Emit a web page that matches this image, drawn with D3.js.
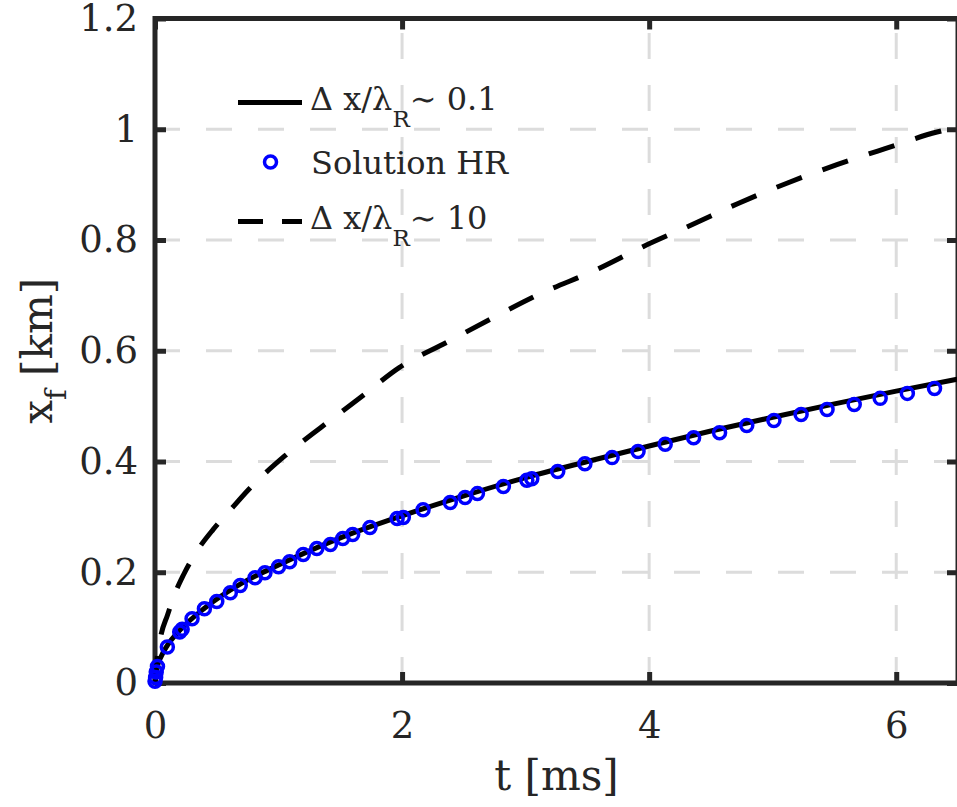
<!DOCTYPE html>
<html>
<head>
<meta charset="utf-8">
<script src="https://cdn.jsdelivr.net/npm/d3@7"></script>
<style>
  html, body { margin: 0; padding: 0; background: #fff; }
  svg { display: block; }
  text { font-family: "DejaVu Serif", "Liberation Serif", serif; fill: #262626; }
</style>
</head>
<body>
<svg id="chart" width="957" height="807"></svg>
<script>
// ---- data ----
const xTicks = [0, 2, 4, 6];
const yTicks = [0, 0.2, 0.4, 0.6, 0.8, 1, 1.2];
const yTickLabels = ["0", "0.2", "0.4", "0.6", "0.8", "1", "1.2"];

// Δx/λR ~ 0.1 (solid)
const fineT = [0, 0.02, 0.05, 0.1, 0.2, 0.4, 0.7, 1.0, 1.5, 2.0, 2.5, 3.0, 3.5, 4.0, 4.5, 5.0, 5.5, 6.0, 6.5];
const fineX = [0, 0.03, 0.048, 0.068, 0.095, 0.135, 0.18, 0.213, 0.262, 0.302, 0.338, 0.371, 0.4, 0.428, 0.455, 0.48, 0.504, 0.527, 0.549];

// Solution HR (circles)
const hrT = [0, 0.005, 0.01, 0.02, 0.1, 0.2, 0.22, 0.3, 0.4, 0.5, 0.61, 0.69, 0.81, 0.89, 1.0, 1.09, 1.2, 1.31, 1.42, 1.52, 1.6, 1.74, 1.96, 2.01, 2.17, 2.39, 2.51, 2.61, 2.82, 3.01, 3.05, 3.26, 3.48, 3.7, 3.91, 4.13, 4.36, 4.57, 4.79, 5.01, 5.23, 5.44, 5.66, 5.87, 6.09, 6.31];
const hrX = [0.003, 0.01, 0.02, 0.03, 0.065, 0.092, 0.097, 0.116, 0.134, 0.147, 0.163, 0.176, 0.19, 0.199, 0.21, 0.219, 0.232, 0.243, 0.25, 0.261, 0.268, 0.281, 0.297, 0.299, 0.313, 0.326, 0.335, 0.342, 0.355, 0.366, 0.369, 0.382, 0.396, 0.407, 0.418, 0.431, 0.443, 0.452, 0.465, 0.474, 0.485, 0.494, 0.503, 0.514, 0.523, 0.532];

// Δx/λR ~ 10 (dashed)
const coarseT = [0, 0.02, 0.05, 0.1, 0.15, 0.23, 0.33, 0.47, 0.6, 0.76, 1.05, 1.34, 1.66, 1.98, 2.36, 2.74, 3.12, 3.58, 3.95, 4.35, 4.72, 5.12, 5.52, 5.91, 6.33, 6.5];
const coarseX = [0, 0.05, 0.088, 0.122, 0.155, 0.195, 0.235, 0.277, 0.31, 0.35, 0.41, 0.461, 0.515, 0.57, 0.615, 0.66, 0.703, 0.747, 0.788, 0.828, 0.866, 0.903, 0.936, 0.965, 0.995, 1.004];

// ---- layout ----
const L = 155, R = 958, T = 18.5, B = 683;
const svg = d3.select("#chart");
const x = d3.scaleLinear().domain([0, 6.5]).range([L, R]);
const y = d3.scaleLinear().domain([0, 1.2]).range([B, T]);

const axisColor = "#262626";
const gridColor = "#dcdcdc";

// grid
const grid = svg.append("g");
grid.selectAll("line.vg").data(xTicks.filter(d => d > 0)).join("line")
  .attr("x1", d => x(d)).attr("x2", d => x(d)).attr("y1", B).attr("y2", T)
  .attr("stroke", gridColor).attr("stroke-width", 3).attr("stroke-dasharray", "26,26");
grid.selectAll("line.hg").data(yTicks.filter(d => d > 0 && d < 1.2)).join("line")
  .attr("x1", L - 1).attr("x2", R).attr("y1", d => y(d)).attr("y2", d => y(d))
  .attr("stroke", gridColor).attr("stroke-width", 3).attr("stroke-dasharray", "26,26");

// axes (ticks inward on all sides)
const tickFont = 37;
function styleAxis(g) {
  g.select(".domain").remove();
  g.selectAll(".tick line").attr("stroke", axisColor).attr("stroke-width", 5);
  g.selectAll(".tick text").attr("fill", axisColor).style("font-size", tickFont + "px")
    .style("font-family", '"DejaVu Serif", serif');
}
svg.append("g").attr("transform", `translate(0,${B})`)
  .call(d3.axisBottom(x).tickValues(xTicks).tickFormat(d3.format("d")).tickSize(-11).tickPadding(29))
  .call(styleAxis);
svg.append("g").attr("transform", `translate(${L},0)`)
  .call(d3.axisLeft(y).tickValues(yTicks).tickFormat((d, i) => yTickLabels[i]).tickSize(-11).tickPadding(17))
  .call(styleAxis);
svg.append("g").attr("transform", `translate(0,${T})`)
  .call(d3.axisTop(x).tickValues(xTicks).tickFormat("").tickSize(-11))
  .call(styleAxis);
svg.append("g").attr("transform", `translate(${R},0)`)
  .call(d3.axisRight(y).tickValues(yTicks).tickFormat("").tickSize(-11))
  .call(styleAxis);

// frame
svg.append("rect").attr("x", L).attr("y", T).attr("width", R - L).attr("height", B - T)
  .attr("fill", "none").attr("stroke", axisColor).attr("stroke-width", 5);

// series
const line = d3.line().x(d => x(d[0])).y(d => y(d[1])).curve(d3.curveMonotoneX);

svg.append("path").datum(coarseT.map((t, i) => [t, coarseX[i]]))
  .attr("d", line).attr("fill", "none").attr("stroke", "#000").attr("stroke-width", 5)
  .attr("stroke-dasharray", "27,22");
svg.append("path").datum(fineT.map((t, i) => [t, fineX[i]]))
  .attr("d", line).attr("fill", "none").attr("stroke", "#000").attr("stroke-width", 5);
svg.append("g").selectAll("circle").data(hrT.map((t, i) => [t, hrX[i]])).join("circle")
  .attr("cx", d => x(d[0])).attr("cy", d => y(d[1])).attr("r", 6)
  .attr("fill", "none").attr("stroke", "#0000ff").attr("stroke-width", 3.5);

// legend
const legFont = 32;
const lg = svg.append("g");
const rows = [102.5, 162, 221.5];
lg.append("line").attr("x1", 238).attr("x2", 302).attr("y1", rows[0]).attr("y2", rows[0])
  .attr("stroke", "#000").attr("stroke-width", 5);
lg.append("circle").attr("cx", 270.5).attr("cy", rows[1]).attr("r", 6)
  .attr("fill", "none").attr("stroke", "#0000ff").attr("stroke-width", 3.5);
lg.append("line").attr("x1", 238).attr("x2", 302).attr("y1", rows[2]).attr("y2", rows[2])
  .attr("stroke", "#000").attr("stroke-width", 5).attr("stroke-dasharray", "25,19");

function deltaLabel(yy, val) {
  const t = lg.append("text").attr("x", 310).attr("y", yy + 7).style("font-size", legFont + "px").attr("fill", "#000");
  t.append("tspan").text("Δ x/λ");
  t.append("tspan").attr("dy", 17).style("font-size", "23px").text("R");
  t.append("tspan").attr("dy", -17).text("∼ " + val);
}
deltaLabel(rows[0], "0.1");
lg.append("text").attr("x", 311).attr("y", rows[1] + 12).style("font-size", legFont + "px").attr("fill", "#000").text("Solution HR");
deltaLabel(rows[2], "10");

// axis labels
svg.append("text").attr("x", (L + R) / 2).attr("y", 790).attr("text-anchor", "middle")
  .style("font-size", "42px").text("t [ms]");
const yl = svg.append("text").attr("transform", `translate(52,${(T + B) / 2}) rotate(-90)`)
  .attr("text-anchor", "middle").style("font-size", "42px");
yl.append("tspan").text("x");
yl.append("tspan").attr("dy", 14).style("font-size", "29px").text("f");
yl.append("tspan").attr("dy", -14).text(" [km]");
</script>
</body>
</html>
